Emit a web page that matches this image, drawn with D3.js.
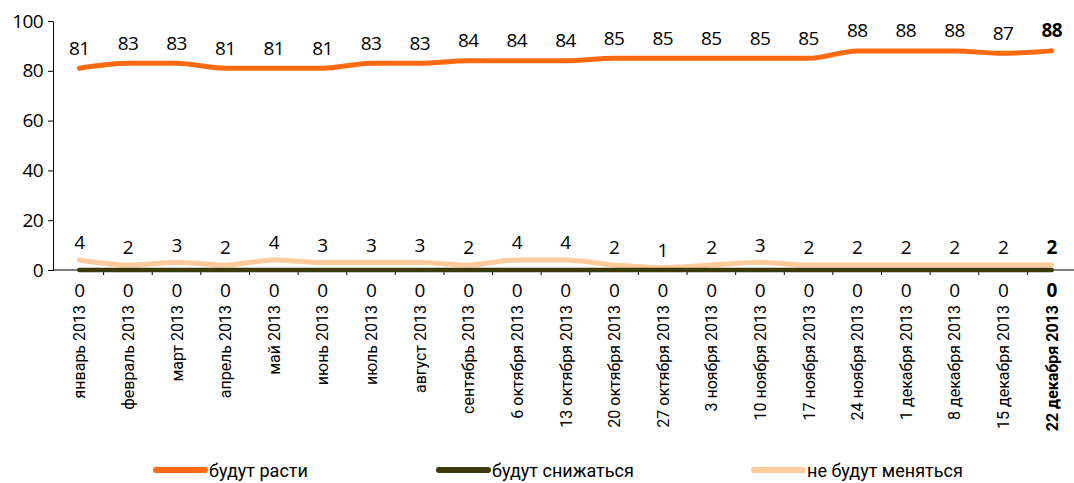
<!DOCTYPE html>
<html><head><meta charset="utf-8">
<script src="https://cdn.jsdelivr.net/npm/d3@7"></script>
<style>body{margin:0;background:#fff}svg{display:block}</style>
</head><body>
<svg id="c" width="1074" height="483"></svg>
<script>
const categories = ["январь 2013","февраль 2013","март 2013","апрель 2013","май 2013","июнь 2013","июль 2013","август 2013","сентябрь 2013","6 октября 2013","13 октября 2013","20 октября 2013","27 октября 2013","3 ноября 2013","10 ноября 2013","17 ноября 2013","24 ноября 2013","1 декабря 2013","8 декабря 2013","15 декабря 2013","22 декабря 2013"];
const grow = [81,83,83,81,81,81,83,83,84,84,84,85,85,85,85,85,88,88,88,87,88];
const fall = [0,0,0,0,0,0,0,0,0,0,0,0,0,0,0,0,0,0,0,0,0];
const same = [4,2,3,2,4,3,3,3,2,4,4,2,1,2,3,2,2,2,2,2,2];
const seriesNames = ["будут расти","будут снижаться","не будут меняться"];
const colors = ["#FF6A10","#3A3A0A","#FFCB9A"];
const yTicks = [0,20,40,60,80,100];

const svg = d3.select("#c");
const x = d3.scaleBand().domain(categories).range([55,1076]);
const y = d3.scaleLinear().domain([0,100]).range([270,21]);
const cx = d => x(d) + x.bandwidth()/2;
const numFont = "'Open Sans', 'DejaVu Sans', sans-serif";
const catFont = "Roboto, 'Open Sans', sans-serif";

// axes
const yAxis = svg.append("g").attr("transform","translate(53,0)")
  .call(d3.axisLeft(y).tickValues(yTicks).tickSize(5).tickSizeOuter(0));
yAxis.select(".domain").attr("stroke","#000");
yAxis.selectAll("text").attr("font-family",numFont).attr("font-size",19).attr("letter-spacing","-0.6").attr("fill","#000").attr("dx","-2");
const xg = svg.append("g");
xg.append("line").attr("x1",53).attr("x2",1074).attr("y1",270).attr("y2",270).attr("stroke","#000");
categories.forEach((c,i)=>{ if(i>0) xg.append("line").attr("x1",x(c)).attr("x2",x(c)).attr("y1",270).attr("y2",275).attr("stroke","#000");});

const line = d3.line().x((d,i)=>cx(categories[i])).y(d=>y(d)).curve(d3.curveMonotoneX);
const data = [grow,fall,same];
const widths = [5,4.5,5];
[2,1,0].forEach(k=>{
  svg.append("path").attr("d",line(data[k])).attr("fill","none").attr("stroke",colors[k]).attr("stroke-width",widths[k]).attr("stroke-linecap","round");
});

const last = categories.length-1;
function labels(arr, yf){
  svg.append("g").selectAll("text").data(arr).join("text")
    .attr("x",(d,i)=>cx(categories[i])).attr("y",yf)
    .attr("text-anchor","middle").attr("font-family",numFont).attr("font-size",19).attr("letter-spacing","-0.6")
    .attr("font-weight",(d,i)=>i===last?"bold":"normal").text(d=>d);
}
labels(grow, d=>y(d)-13.5);
labels(same, d=>y(d)-11);
labels(fall, ()=>297);

// category labels
svg.append("g").selectAll("text").data(categories).join("text")
  .attr("transform",d=>`translate(${cx(d)+6},305) rotate(-90)`)
  .attr("text-anchor","end").attr("font-family",catFont).attr("font-size",16)
  .attr("font-weight",(d,i)=>i===last?"bold":"normal").text(d=>d);

// legend
const legX = [156,439,754];
seriesNames.forEach((n,k)=>{
  svg.append("line").attr("x1",legX[k]).attr("x2",legX[k]+49).attr("y1",470).attr("y2",470)
    .attr("stroke",colors[k]).attr("stroke-width",6).attr("stroke-linecap","round");
  svg.append("text").attr("x",legX[k]+53).attr("y",477).attr("font-family",catFont).attr("font-size",18).text(n);
});
</script>
</body></html>
